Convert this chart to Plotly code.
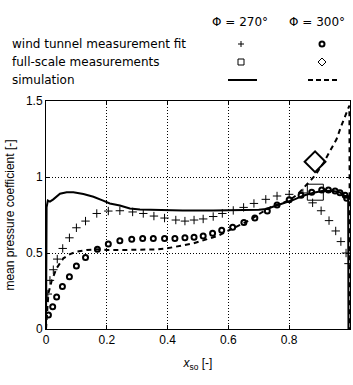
import plotly.graph_objects as go

# ---- data ----
sim270_x = [0, 0.002, 0.006, 0.013, 0.024, 0.035, 0.046, 0.068, 0.09, 0.123, 0.156, 0.188, 0.21, 0.243,
            0.276, 0.309, 0.35, 0.45, 0.55, 0.65, 0.70, 0.725, 0.748, 0.78, 0.814, 0.846, 0.88, 0.912,
            0.945, 0.967, 0.989, 0.994, 0.995]
sim270_y = [0, 0.80, 0.845, 0.838, 0.853, 0.875, 0.89, 0.90, 0.90, 0.888, 0.87, 0.845, 0.826, 0.813,
            0.793, 0.786, 0.783, 0.78, 0.78, 0.782, 0.785, 0.79, 0.805, 0.826, 0.85, 0.877, 0.897, 0.91,
            0.908, 0.898, 0.87, 0.86, 0]

sim300_x = [0, 0.003, 0.008, 0.019, 0.035, 0.057, 0.079, 0.10, 0.134, 0.167, 0.2, 0.254, 0.32, 0.364,
            0.397, 0.43, 0.457, 0.485, 0.512, 0.54, 0.567, 0.592, 0.622, 0.649, 0.671, 0.704, 0.742,
            0.775, 0.803, 0.83, 0.857, 0.885, 0.912, 0.934, 0.956, 0.972, 0.987, 0.998, 1.0]
sim300_y = [0, 0.12, 0.235, 0.32, 0.40, 0.465, 0.493, 0.508, 0.52, 0.524, 0.52, 0.52, 0.52, 0.524,
            0.53, 0.54, 0.553, 0.563, 0.579, 0.595, 0.614, 0.64, 0.67, 0.695, 0.717, 0.76, 0.805,
            0.826, 0.85, 0.89, 0.947, 1.01, 1.09, 1.167, 1.25, 1.34, 1.42, 1.47, 0]

wt270_x = [0.006, 0.013, 0.024, 0.037, 0.055, 0.077, 0.10, 0.13, 0.167, 0.205, 0.243, 0.285, 0.32,
           0.355, 0.39, 0.427, 0.457, 0.487, 0.517, 0.55, 0.58, 0.616, 0.65, 0.684, 0.723, 0.76, 0.80,
           0.845, 0.877, 0.905, 0.931, 0.953, 0.97, 0.987, 0.995]
wt270_y = [0.23, 0.32, 0.39, 0.46, 0.53, 0.60, 0.666, 0.71, 0.76, 0.776, 0.778, 0.77, 0.76,
           0.743, 0.73, 0.717, 0.71, 0.717, 0.724, 0.74, 0.76, 0.78, 0.80, 0.826, 0.853, 0.875, 0.886,
           0.895, 0.83, 0.778, 0.713, 0.645, 0.575, 0.50, 0.43]

wt300_x = [0.008, 0.022, 0.035, 0.054, 0.077, 0.10, 0.13, 0.169, 0.205, 0.243, 0.282, 0.318, 0.353,
           0.39, 0.424, 0.457, 0.487, 0.517, 0.548, 0.578, 0.614, 0.651, 0.687, 0.728, 0.76, 0.80,
           0.839, 0.874, 0.907, 0.929, 0.951, 0.967, 0.984, 0.989]
wt300_y = [0.092, 0.147, 0.21, 0.28, 0.344, 0.414, 0.47, 0.524, 0.56, 0.58, 0.59, 0.595, 0.595,
           0.595, 0.595, 0.60, 0.603, 0.612, 0.63, 0.65, 0.67, 0.70, 0.73, 0.776, 0.816, 0.85,
           0.88, 0.90, 0.914, 0.914, 0.908, 0.897, 0.88, 0.86]

fs270_x = [0.886]
fs270_y = [0.90]
fs300_x = [0.885]
fs300_y = [1.10]

x_ticks = [0, 0.2, 0.4, 0.6, 0.8, 1]
x_tick_labels = ["0", "0.2", "0.4", "0.6", "0.8", "1"]
y_ticks = [0, 0.5, 1, 1.5]
y_tick_labels = ["0", "0.5", "1", "1.5"]

legend_rows = ["wind tunnel measurement fit", "full-scale measurements", "simulation"]
legend_headers = ["Φ = 270°", "Φ = 300°"]

FONT = "Liberation Sans, Arial, sans-serif"
LFONT = "DejaVu Sans, sans-serif"

W, H = 353, 385
ML, MR, MT, MB = 46, 3, 101, 56
PW, PH = W - ML - MR, H - MT - MB


def px(x):
    return (x - ML) / PW


def py(y):
    return (H - MB - y) / PH


fig = go.Figure()

fig.add_trace(go.Scatter(x=sim270_x, y=sim270_y, mode="lines",
                         line=dict(color="black", width=2), showlegend=False))
fig.add_trace(go.Scatter(x=sim300_x, y=sim300_y, mode="lines",
                         line=dict(color="black", width=2, dash="5px,4px"), showlegend=False))
fig.add_trace(go.Scatter(x=wt270_x, y=wt270_y, mode="markers",
                         marker=dict(symbol="cross-thin-open", size=6, color="black",
                                     line=dict(color="black", width=1)),
                         showlegend=False))
fig.add_trace(go.Scatter(x=wt300_x, y=wt300_y, mode="markers",
                         marker=dict(symbol="circle-open", size=5, color="black", line=dict(color="black", width=2)),
                         showlegend=False))
fig.add_trace(go.Scatter(x=fs270_x, y=fs270_y, mode="markers",
                         marker=dict(symbol="square-open", size=16, color="black", line=dict(color="black", width=1)),
                         showlegend=False))
fig.add_trace(go.Scatter(x=fs300_x, y=fs300_y, mode="markers",
                         marker=dict(symbol="diamond-open", size=16, color="black", line=dict(color="black", width=2)),
                         showlegend=False))

# ---- legend table drawn with shapes / annotations in paper coordinates ----
shapes = []
ln = dict(color="black", width=1)
# plus (270, wind tunnel)
shapes.append(dict(type="line", xref="paper", yref="paper", x0=px(238), x1=px(244), y0=py(44), y1=py(44), line=ln))
shapes.append(dict(type="line", xref="paper", yref="paper", x0=px(241), x1=px(241), y0=py(41), y1=py(47), line=ln))
# circle (300, wind tunnel)
shapes.append(dict(type="circle", xref="paper", yref="paper", x0=px(319.5), x1=px(324.5), y0=py(41.5), y1=py(46.5),
                   line=dict(color="black", width=2)))
# square (270, full-scale)
shapes.append(dict(type="rect", xref="paper", yref="paper", x0=px(238), x1=px(244), y0=py(59), y1=py(65), line=ln))
# diamond (300, full-scale)
shapes.append(dict(type="path", xref="paper", yref="paper",
                   path=f"M {px(322)},{py(58)} L {px(326)},{py(62)} L {px(322)},{py(66)} L {px(318)},{py(62)} Z",
                   line=ln))
# simulation lines
shapes.append(dict(type="line", xref="paper", yref="paper", x0=px(228), x1=px(257), y0=py(80), y1=py(80),
                   line=dict(color="black", width=2)))
shapes.append(dict(type="line", xref="paper", yref="paper", x0=px(308), x1=px(337), y0=py(80), y1=py(80),
                   line=dict(color="black", width=2, dash="5px,3px")))

annotations = []
for i, t in enumerate(legend_rows):
    annotations.append(dict(x=px(10), y=py(44 + 18 * i), xref="paper", yref="paper", text=t, showarrow=False,
                            xanchor="left", yanchor="middle", font=dict(family=LFONT, size=12, color="black")))
for cx, t in zip([240, 317], legend_headers):
    annotations.append(dict(x=px(cx), y=py(22), xref="paper", yref="paper", text=t, showarrow=False,
                            xanchor="center", yanchor="middle", font=dict(family=LFONT, size=12, color="black")))

axis_common = dict(showline=True, linecolor="black", linewidth=1, mirror="allticks",
                   ticks="inside", ticklen=4, tickcolor="black", tickwidth=1,
                   showgrid=True, gridcolor="black", griddash="1px,2px", gridwidth=1,
                   zeroline=False, tickfont=dict(family=FONT, size=12, color="black"))

fig.update_layout(
    width=W, height=H,
    margin=dict(l=ML, r=MR, t=MT, b=MB),
    paper_bgcolor="white", plot_bgcolor="white",
    showlegend=False,
    xaxis=dict(range=[0, 1], tickvals=x_ticks, ticktext=x_tick_labels,
               title=dict(text="<i>x</i><sub>so</sub> [-]", font=dict(family=FONT, size=12, color="black"), standoff=12),
               **axis_common),
    yaxis=dict(range=[0, 1.5], tickvals=y_ticks, ticktext=y_tick_labels,
               title=dict(text="mean pressure coefficient [-]", font=dict(family=FONT, size=12, color="black"), standoff=8),
               **axis_common),
    shapes=shapes,
    annotations=annotations,
)

fig.write_html("out.html")
